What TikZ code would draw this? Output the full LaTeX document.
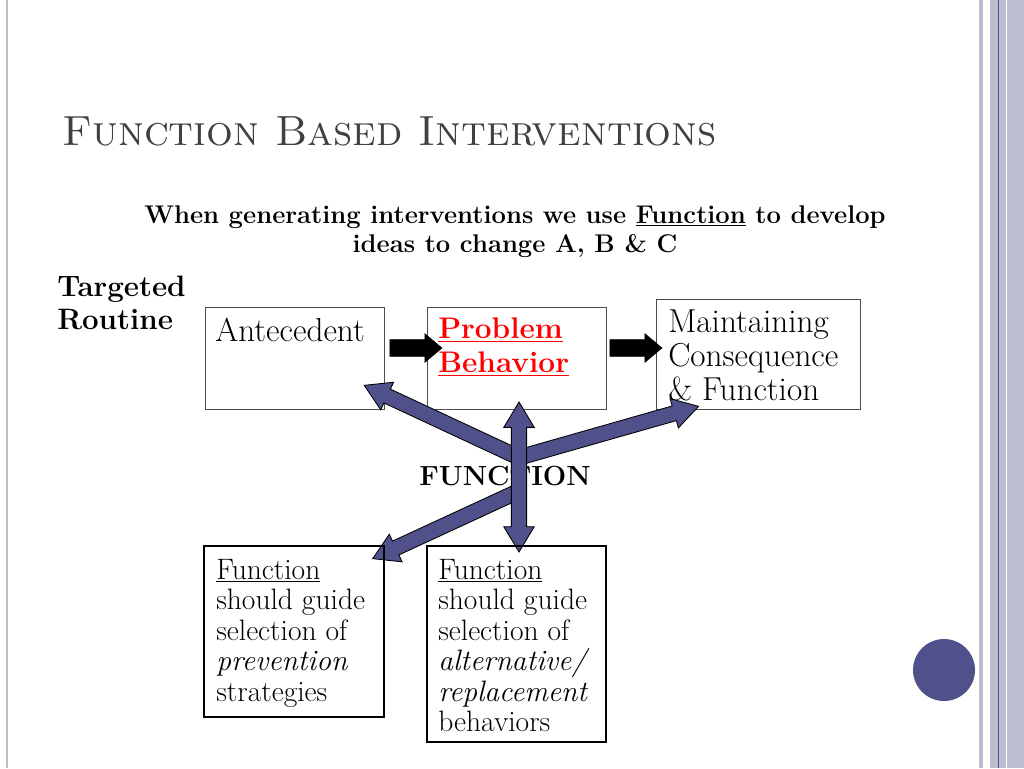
\documentclass[tikz,border=0pt]{standalone}
\usetikzlibrary{shapes.arrows}
\definecolor{slate}{HTML}{50508A}
\definecolor{stripe}{HTML}{BDBDD0}
\tikzset{
  box/.style={draw=black!70, line width=0.5pt},
  thickbox/.style={draw=black, line width=1.6pt},
  fatarr/.style={single arrow, draw=black, fill=slate, line width=0.6pt, inner xsep=0pt,
    inner ysep=1.8mm, single arrow head extend=1.9mm, single arrow tip angle=62,
    single arrow head indent=0mm},
  dblarr/.style={double arrow, draw=black, fill=slate, line width=0.6pt, inner xsep=0pt,
    inner ysep=1.8mm, double arrow head extend=1.9mm, double arrow tip angle=62},
  blkarr/.style={single arrow, draw=black, fill=black, inner xsep=0pt,
    inner ysep=2mm, single arrow head extend=1.5mm, single arrow tip angle=80},
  txt/.style={anchor=north west, inner sep=0pt, align=left}
}
\begin{document}
\begin{tikzpicture}[x=0.25mm, y=-0.25mm]
  \useasboundingbox (0,0) rectangle (1024,768);
  % Rahmen
  \fill[white] (0,0) rectangle (1024,768);
  \fill[stripe] (6,0) rectangle (8,768);
  \fill[stripe] (979,0) rectangle (983,768);
  \fill[stripe] (990,0) rectangle (1024,768);
  \draw[slate, line width=0.5pt] (998,0) -- (998,768);
  \fill[white] (1006,0) rectangle (1007,768);
  \fill[slate] (944,670) circle (31);
  % Titel
  \node[anchor=base west, inner sep=0pt, text=black!75] (title) at (62,145)
    {\fontsize{30}{36}\selectfont\textsc{Function Based Interventions}};
  \node[anchor=north, inner sep=0pt, align=center, font=\bfseries\fontsize{18.2}{21}\selectfont] (sub) at (515,205)
    {When generating interventions we use \underline{Function} to develop\\ideas to change A, B \& C};
  \node[txt, font=\bfseries\fontsize{21}{23.5}\selectfont] (routine) at (57,276) {Targeted\\Routine};
  % Kaesten oben
  \draw[box] (205,307) rectangle (384,409);
  \draw[box] (427,307) rectangle (606,409);
  \draw[box] (656,299) rectangle (860,409);
  \node[txt, font=\fontsize{23.6}{24}\selectfont] (ante) at (215,318) {Antecedent};
  \node[txt, font=\bfseries\fontsize{21.2}{24}\selectfont, text=red] (prob) at (438,318)
    {\underline{Problem}\\\underline{Behavior}};
  \node[txt, font=\fontsize{23.6}{24}\selectfont] (cons) at (668,310)
    {Maintaining\\Consequence\\\& Function};
  \node[blkarr, minimum height=13mm] (b1) at (411,348) {};
  \node[blkarr, minimum height=13mm] (b2) at (631,348) {};
  % Funktion
  \node[font=\bfseries\fontsize{19.7}{22}\selectfont, inner sep=0pt] (func) at (505,476) {FUNCTION};
  \node[fatarr, minimum height=41.4mm, rotate=155] (f1) at (445,423) {};
  \node[fatarr, minimum height=45.5mm, rotate=15.9] (f2) at (605,433) {};
  \node[fatarr, minimum height=40.5mm, rotate=204.8] (f3) at (452,522) {};
  \node[dblarr, minimum height=37.5mm, rotate=90] (f4) at (519,477) {};
  % Kaesten unten
  \draw[thickbox] (204,546) rectangle (384,717);
  \draw[thickbox] (427,546) rectangle (606,742);
  \node[txt, font=\fontsize{21}{21.7}\selectfont] (prev) at (216,559)
    {\underline{Function}\\should guide\\selection of\\\textit{prevention}\\strategies};
  \node[txt, font=\fontsize{21}{21.7}\selectfont] (alt) at (438,559)
    {\underline{Function}\\should guide\\selection of\\\textit{alternative/}\\\textit{replacement}\\behaviors};
\end{tikzpicture}
\end{document}
